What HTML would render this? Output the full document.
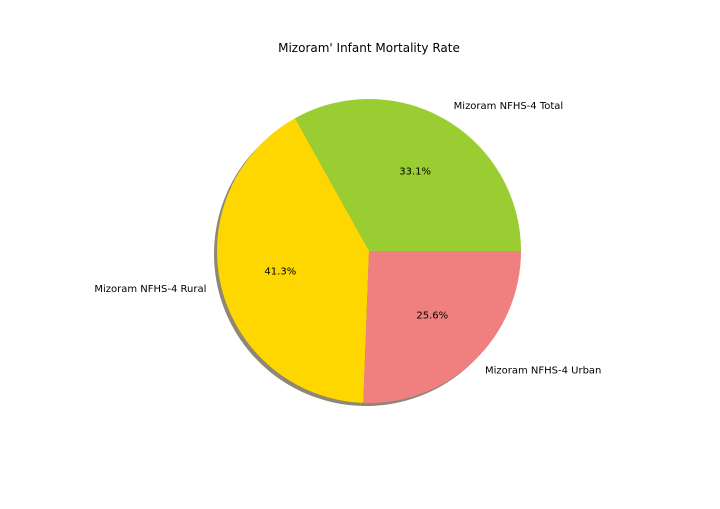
<!DOCTYPE html>
<html><head><meta charset="utf-8"><style>
body{margin:0;background:#fff;}
svg text{font-family:"DejaVu Sans","Liberation Sans",sans-serif;}
</style></head><body>
<svg id="chart" width="720" height="504" xmlns="http://www.w3.org/2000/svg">
<rect width="720" height="504" fill="#fff"/>
<text x="369" y="52" font-size="12" text-anchor="middle">Mizoram' Infant Mortality Rate</text>
<g id="shadow"></g><g id="slices"></g><g id="labels"></g>
</svg>
<script>
const categories = ["Mizoram NFHS-4 Total", "Mizoram NFHS-4 Rural", "Mizoram NFHS-4 Urban"];
const values = [33.1, 41.3, 25.6];
const colors = ["#9acd32", "#ffd700", "#f08080"];
const cx = 369, cy = 251, r = 152;
const NS = "http://www.w3.org/2000/svg";
const total = values.reduce((a,b)=>a+b,0);
function pt(a, rr, ox=0, oy=0){ return [cx+ox+rr*Math.cos(a), cy+oy-rr*Math.sin(a)]; }
function arcPath(a0,a1,ox,oy){
  const p0=pt(a0,r,ox,oy), p1=pt(a1,r,ox,oy);
  const large=(a1-a0)>Math.PI?1:0;
  return `M${cx+ox},${cy+oy} L${p0[0]},${p0[1]} A${r},${r} 0 ${large} 0 ${p1[0]},${p1[1]} Z`;
}
const sh=document.getElementById('shadow'), sl=document.getElementById('slices'), lb=document.getElementById('labels');
let a=0;
values.forEach((v,i)=>{
  const a1=a+v/total*2*Math.PI;
  const s=document.createElementNS(NS,'path');
  s.setAttribute('d',arcPath(a,a1,-3,3));
  s.setAttribute('fill','#8f8775');
  
  
  sh.appendChild(s);
  const p=document.createElementNS(NS,'path');
  p.setAttribute('d',arcPath(a,a1,0,0));
  p.setAttribute('fill',colors[i]);
  
  
  sl.appendChild(p);
  const m=(a+a1)/2;
  const lp=pt(m,r*1.1);
  const t=document.createElementNS(NS,'text');
  t.setAttribute('x',lp[0]); t.setAttribute('y',lp[1]+2);
  t.setAttribute('font-size','10');
  t.setAttribute('text-anchor',Math.cos(m)>=0?'start':'end');
  t.textContent=categories[i];
  
  
  lb.appendChild(t);
  const pp=pt(m,r*0.6);
  const t2=document.createElementNS(NS,'text');
  t2.setAttribute('x',pp[0]); t2.setAttribute('y',pp[1]+2);
  t2.setAttribute('font-size','10');
  t2.setAttribute('text-anchor','middle');
  t2.textContent=(v/total*100).toFixed(1)+'%';
  
  
  lb.appendChild(t2);
  a=a1;
});
</script>
</body></html>
